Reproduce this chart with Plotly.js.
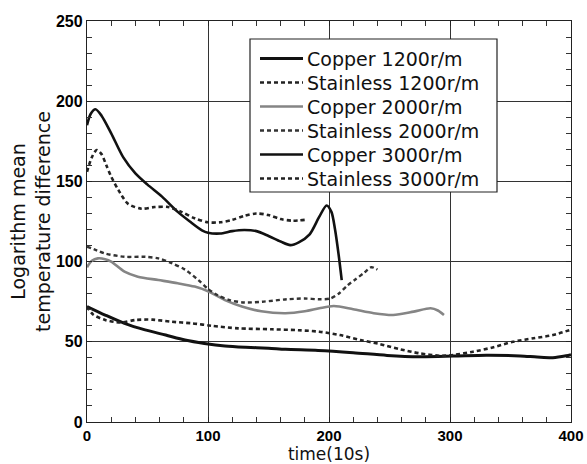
<!DOCTYPE html>
<html>
<head>
<meta charset="utf-8">
<script src="https://cdn.plot.ly/plotly-3.0.1.min.js"></script>
<style>
  html, body { margin: 0; padding: 0; background: #fff; }
  #chart { width: 587px; height: 464px; }
</style>
</head>
<body>
<div id="chart"></div>
<script>
// ---- data ----
var seriesNames = ['Copper 1200r/m', 'Stainless 1200r/m', 'Copper 2000r/m',
                   'Stainless 2000r/m', 'Copper 3000r/m', 'Stainless 3000r/m'];

var cu1200_x = [0, 15, 31, 48, 65, 81, 97, 114, 131, 150, 164, 191, 220, 248, 275, 303, 330, 358, 372, 385, 396, 400];
var cu1200_y = [72, 66.7, 61.5, 57.4, 54.2, 51.1, 49, 47.4, 46.6, 46, 45.3, 44.6, 43.2, 41.5, 40.7, 41.1, 41.6, 41.2, 40.5, 40.1, 41.3, 42];

var ss1200_x = [0, 5, 15, 28, 40, 54, 70, 87, 103, 125, 153, 175, 192, 209, 226, 242, 259, 275, 292, 303, 319, 336, 352, 369, 385, 400];
var ss1200_y = [72, 67, 63.6, 62, 63.6, 63.8, 62.5, 61.5, 60, 58.4, 57.8, 57.2, 56.3, 54.2, 51.1, 48.6, 45.3, 42.8, 41.3, 41.8, 43.8, 46.6, 50, 52.2, 54.2, 57.6];

var cu2000_x = [0, 4, 9, 15, 20, 31, 42, 59, 75, 89, 100, 114, 128, 144, 164, 180, 192, 204, 220, 237, 253, 270, 284, 290, 295];
var cu2000_y = [96.5, 100.5, 102, 101.5, 100, 93.7, 90.6, 88.5, 86.5, 84.4, 81.5, 76, 72, 69, 67.8, 69, 70.9, 72.3, 70.3, 67.8, 66.7, 68.8, 70.9, 69.5, 66.7];

var ss2000_x = [0, 8, 15, 31, 48, 59, 70, 81, 92, 100, 108, 118, 130, 145, 165, 180, 192, 201, 208, 215, 222, 229, 235, 240];
var ss2000_y = [109.3, 107, 105, 103, 103, 102, 99, 95, 88.5, 83, 79, 76, 74.5, 75, 76.5, 77, 76.5, 77, 80, 85, 89, 93, 96.5, 95];

var cu3000_x = [0, 3, 7, 12, 20, 30, 40, 50, 62, 75, 85, 95, 100, 110, 120, 130, 140, 150, 160, 168, 175, 184, 192, 198, 202, 205, 208, 210.5];
var cu3000_y = [185, 192, 195, 191, 180, 165, 155, 148, 140.5, 131, 125, 119.5, 118, 117.5, 119, 119.7, 119, 116, 112.5, 110.3, 112, 117, 128, 135, 131, 120, 104, 88.5];

var ss3000_x = [0, 4, 8, 12, 16, 20, 26, 34, 45, 56, 67, 78, 89, 100, 110, 120, 130, 140, 150, 160, 170, 180];
var ss3000_y = [156, 165, 169.6, 167, 160, 153, 144.6, 136, 133, 134, 134, 131, 127, 124.5, 124.5, 126, 128.5, 130, 129, 126.5, 125.5, 126];

var xTickVals = [0, 100, 200, 300, 400];
var yTickVals = [0, 50, 100, 150, 200, 250];

// ---- styles ----
var FONT = 'Liberation Sans, Arial, Helvetica, sans-serif';
var WIDE = 'DejaVu Sans, Verdana, sans-serif';
var styles = [
  {color: '#111', width: 3, dash: 'solid'},
  {color: '#222', width: 2.6, dash: '4px,3px'},
  {color: '#858585', width: 2.6, dash: 'solid'},
  {color: '#333', width: 2.4, dash: '4px,3px'},
  {color: '#111', width: 2.6, dash: 'solid'},
  {color: '#222', width: 2.6, dash: '4px,3px'}
];
var xs = [cu1200_x, ss1200_x, cu2000_x, ss2000_x, cu3000_x, ss3000_x];
var ys = [cu1200_y, ss1200_y, cu2000_y, ss2000_y, cu3000_y, ss3000_y];

var traces = [];
for (var i = 0; i < seriesNames.length; i++) {
  traces.push({
    type: 'scatter', mode: 'lines', name: seriesNames[i],
    x: xs[i], y: ys[i], showlegend: false,
    line: {color: styles[i].color, width: styles[i].width, dash: styles[i].dash,
           shape: 'spline', smoothing: 0.8}
  });
}

// ---- hand-drawn legend box (layout, paper coordinates) ----
var W = 587, H = 464, ML = 87, MR = 16, MT = 21, MB = 42;
var pw = W - ML - MR, ph = H - MT - MB;
function px2x(p) { return (p - ML) / pw; }
function py2y(p) { return (H - MB - p) / ph; }

var shapes = [{
  type: 'rect', xref: 'paper', yref: 'paper', layer: 'above',
  x0: px2x(250), x1: px2x(497), y0: py2y(192), y1: py2y(39),
  line: {color: '#222', width: 1.2}, fillcolor: '#fff'
}];
var annotations = [];
for (var j = 0; j < seriesNames.length; j++) {
  var rowY = 58.5 + j * 24;
  shapes.push({
    type: 'line', xref: 'paper', yref: 'paper', layer: 'above',
    x0: px2x(260), x1: px2x(303), y0: py2y(rowY), y1: py2y(rowY),
    line: {color: styles[j].color, width: styles[j].width, dash: styles[j].dash}
  });
  annotations.push({
    xref: 'paper', yref: 'paper', x: px2x(305), y: py2y(rowY),
    xanchor: 'left', yanchor: 'middle', showarrow: false,
    text: seriesNames[j], font: {family: WIDE, size: 19, color: '#111'}
  });
}

var layout = {
  width: W, height: H,
  margin: {l: ML, r: MR, t: MT, b: MB, pad: 0},
  paper_bgcolor: '#fff', plot_bgcolor: '#fff',
  showlegend: false,
  font: {family: FONT, color: '#111'},
  xaxis: {
    range: [0, 400], tickmode: 'array', tickvals: xTickVals, ticktext: xTickVals.map(String),
    showgrid: true, gridcolor: '#333', gridwidth: 1,
    zeroline: false, showline: true, linecolor: '#222', linewidth: 1.2,
    mirror: 'allticks', ticks: 'inside', ticklen: 5, tickcolor: '#222', tickwidth: 1,
    minor: {tickmode: 'linear', tick0: 0, dtick: 20, ticks: 'inside', ticklen: 5,
            tickcolor: '#333', tickwidth: 1, showgrid: false},
    tickfont: {family: FONT, size: 15, color: '#000', weight: 'bold'},
    title: {text: 'time(10s)', font: {family: WIDE, size: 17, color: '#111'}, standoff: 3}
  },
  yaxis: {
    range: [0, 250], tickmode: 'array', tickvals: yTickVals, ticktext: yTickVals.map(String),
    showgrid: true, gridcolor: '#333', gridwidth: 1,
    zeroline: false, showline: true, linecolor: '#222', linewidth: 1.2,
    mirror: 'allticks', ticks: 'inside', ticklen: 5, tickcolor: '#222', tickwidth: 1,
    minor: {tickmode: 'linear', tick0: 0, dtick: 10, ticks: 'inside', ticklen: 5,
            tickcolor: '#333', tickwidth: 1, showgrid: false},
    tickfont: {family: FONT, size: 16, color: '#000', weight: 'bold'},
    title: {text: 'Logarithm mean<br>temperature difference',
            font: {family: WIDE, size: 19, color: '#111'}, standoff: 0}
  },
  shapes: shapes,
  annotations: annotations
};

Plotly.newPlot('chart', traces, layout, {staticPlot: true, displayModeBar: false});
</script>
</body>
</html>
